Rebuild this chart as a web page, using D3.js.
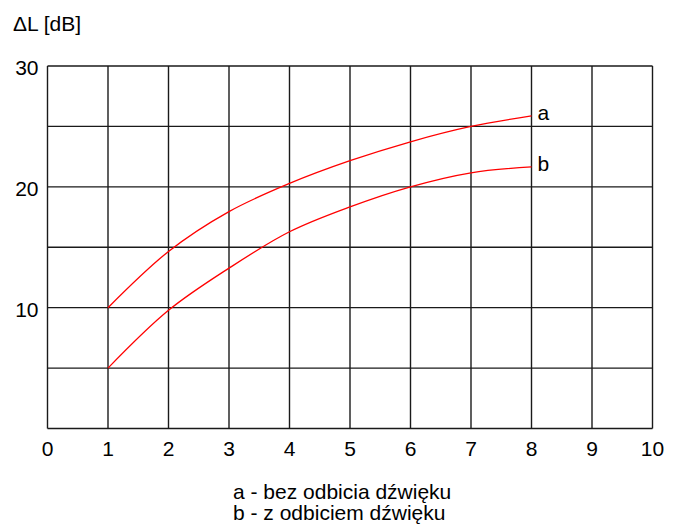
<!DOCTYPE html>
<html>
<head>
<meta charset="utf-8">
<script src="https://cdnjs.cloudflare.com/ajax/libs/d3/7.8.5/d3.min.js"></script>
<style>
  body { margin: 0; background: #fff; }
  text { font-family: "Liberation Sans", Arial, sans-serif; fill: #000; }
</style>
</head>
<body>
<div id="chart"></div>
<script>
var svgWidth = 676;
var svgHeight = 525;

var margin = { top: 66, right: 24, bottom: 96, left: 47.5 };
var width = 605;
var height = 362.5;
var fontSize = 21;

// data
var xVals = [1, 2, 3, 4, 5, 6, 7, 8];
var seriesA = [10, 14.65, 17.95, 20.28, 22.16, 23.73, 25.0, 25.87];
var seriesB = [5, 9.78, 13.27, 16.28, 18.34, 20.0, 21.16, 21.65];
var seriesNames = ["a", "b"];
var xTicks = [0, 1, 2, 3, 4, 5, 6, 7, 8, 9, 10];
var yTicks = [10, 20, 30];
var yGrid = [0, 5, 10, 15, 20, 25, 30];
var legendLines = ["a - bez odbicia dźwięku", "b - z odbiciem dźwięku"];

var svg = d3.select("#chart")
    .append("svg")
    .attr("width", svgWidth)
    .attr("height", svgHeight);

var chartGroup = svg.append("g")
    .attr("transform", `translate(${margin.left}, ${margin.top})`);

var xScale = d3.scaleLinear().domain([0, 10]).range([0, width]);
var yScale = d3.scaleLinear().domain([0, 30]).range([height, 0]);

// grid
chartGroup.selectAll(".vgrid")
    .data(xTicks)
    .enter()
    .append("line")
    .attr("x1", d => xScale(d))
    .attr("x2", d => xScale(d))
    .attr("y1", 0)
    .attr("y2", height)
    .attr("stroke", "#1a1a1a")
    .attr("stroke-width", 1.4);

chartGroup.selectAll(".hgrid")
    .data(yGrid)
    .enter()
    .append("line")
    .attr("x1", 0)
    .attr("x2", width)
    .attr("y1", d => yScale(d))
    .attr("y2", d => yScale(d))
    .attr("stroke", "#1a1a1a")
    .attr("stroke-width", 1.4);

// tick labels
chartGroup.selectAll(".xlab")
    .data(xTicks)
    .enter()
    .append("text")
    .attr("x", d => xScale(d))
    .attr("y", height + 27)
    .attr("text-anchor", "middle")
    .attr("font-size", fontSize)
    .text(d => d);

chartGroup.selectAll(".ylab")
    .data(yTicks)
    .enter()
    .append("text")
    .attr("x", -9)
    .attr("y", d => yScale(d) + 9)
    .attr("text-anchor", "end")
    .attr("font-size", fontSize)
    .text(d => d);

svg.append("text")
    .attr("x", 13)
    .attr("y", 31)
    .attr("font-size", fontSize)
    .text("ΔL [dB]");

// curves
var line = d3.line()
    .x((d, i) => xScale(xVals[i]))
    .y(d => yScale(d))
    .curve(d3.curveCatmullRom);

[seriesA, seriesB].forEach(function(s, k) {
    chartGroup.append("path")
        .attr("d", line(s))
        .attr("fill", "none")
        .attr("stroke", "#ff0000")
        .attr("stroke-width", 1.3);

    chartGroup.append("text")
        .attr("x", xScale(xVals[xVals.length - 1]) + 6)
        .attr("y", yScale(s[s.length - 1]) + 4.5)
        .attr("font-size", fontSize)
        .text(seriesNames[k]);
});

// legend
svg.selectAll(".legend")
    .data(legendLines)
    .enter()
    .append("text")
    .attr("x", 233)
    .attr("y", (d, i) => 499 + i * 21)
    .attr("font-size", fontSize)
    .text(d => d);
</script>
</body>
</html>
